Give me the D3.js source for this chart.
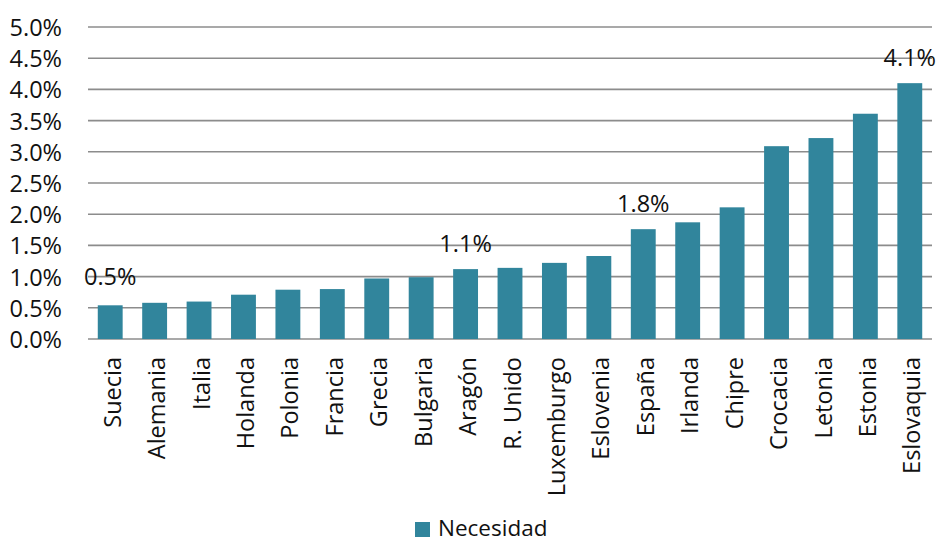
<!DOCTYPE html>
<html>
<head>
<meta charset="utf-8">
<script src="https://cdn.jsdelivr.net/npm/d3@7"></script>
<style>
  body { margin: 0; background: #fff; }
  text { font-family: "Open Sans", sans-serif; fill: #111; }
</style>
</head>
<body>
<svg id="chart" width="936" height="543"></svg>
<script>
// chart data
const categories = ["Suecia", "Alemania", "Italia", "Holanda", "Polonia", "Francia", "Grecia",
  "Bulgaria", "Aragón", "R. Unido", "Luxemburgo", "Eslovenia", "España", "Irlanda",
  "Chipre", "Crocacia", "Letonia", "Estonia", "Eslovaquia"];
const necesidad = [0.0054, 0.0058, 0.0060, 0.0071, 0.0079, 0.0080, 0.0097,
  0.0099, 0.0112, 0.0114, 0.0122, 0.0133, 0.0176, 0.0187,
  0.0211, 0.0309, 0.0322, 0.0361, 0.0410];
const labelled = ["Suecia", "Aragón", "España", "Eslovaquia"];
const yTicks = [0, 0.005, 0.01, 0.015, 0.02, 0.025, 0.03, 0.035, 0.04, 0.045, 0.05];
const seriesName = "Necesidad";

const barColor = "#31859c";
const fontSize = 23.5;
const svg = d3.select("#chart");

const x = d3.scaleBand()
  .domain(categories)
  .range([88, 932])
  .paddingInner(0.44)
  .paddingOuter(0.22);

const y = d3.scaleLinear()
  .domain([0, 0.05])
  .range([339, 27]);

const pct = d3.format(".1%");

// gridlines
svg.append("g")
  .selectAll("line")
  .data(yTicks)
  .join("line")
  .attr("x1", 88)
  .attr("x2", 932)
  .attr("y1", (d) => y(d))
  .attr("y2", (d) => y(d))
  .attr("stroke", "#8c8c8c")
  .attr("stroke-width", 1.6);

// y axis
const yAxis = svg.append("g")
  .attr("transform", "translate(88,0)")
  .call(d3.axisLeft(y).tickValues(yTicks).tickFormat(pct).tickSize(0));
yAxis.select(".domain").remove();
yAxis.selectAll("text")
  .attr("x", -26)
  .attr("dy", "0.36em")
  .style("font-size", fontSize + "px")
  .style("font-family", "'Open Sans', sans-serif")
  .attr("fill", "#111");

// bars
svg.append("g")
  .selectAll("rect")
  .data(categories)
  .join("rect")
  .attr("x", (d) => x(d))
  .attr("y", (d, i) => y(necesidad[i]))
  .attr("width", x.bandwidth())
  .attr("height", (d, i) => y(0) - y(necesidad[i]))
  .attr("fill", barColor);

// data labels
svg.append("g")
  .selectAll("text")
  .data(categories.map((c, i) => ({ c, v: necesidad[i] })).filter((d) => labelled.includes(d.c)))
  .join("text")
  .attr("x", (d) => x(d.c) + x.bandwidth() / 2)
  .attr("y", (d) => y(d.v) - (d.v < 0.01 ? 20 : 17))
  .attr("text-anchor", "middle")
  .style("font-size", fontSize + "px")
  .text((d) => pct(d.v));

// x axis
const xAxis = svg.append("g")
  .attr("transform", `translate(0,${y(0)})`)
  .call(d3.axisBottom(x).tickSize(0));
xAxis.select(".domain").remove();
xAxis.selectAll("text")
  .attr("x", -18)
  .attr("y", 0)
  .attr("dy", "0.45em")
  .attr("transform", "rotate(-90)")
  .style("text-anchor", "end")
  .style("font-size", fontSize + "px")
  .style("font-family", "'Open Sans', sans-serif")
  .attr("fill", "#111");

// legend
const legend = svg.append("g").attr("transform", "translate(415,522)");
legend.append("rect")
  .attr("width", 15)
  .attr("height", 15)
  .attr("fill", barColor);
legend.append("text")
  .attr("x", 23)
  .attr("y", 14)
  .style("font-size", "22.5px")
  .text(seriesName);
</script>
</body>
</html>
